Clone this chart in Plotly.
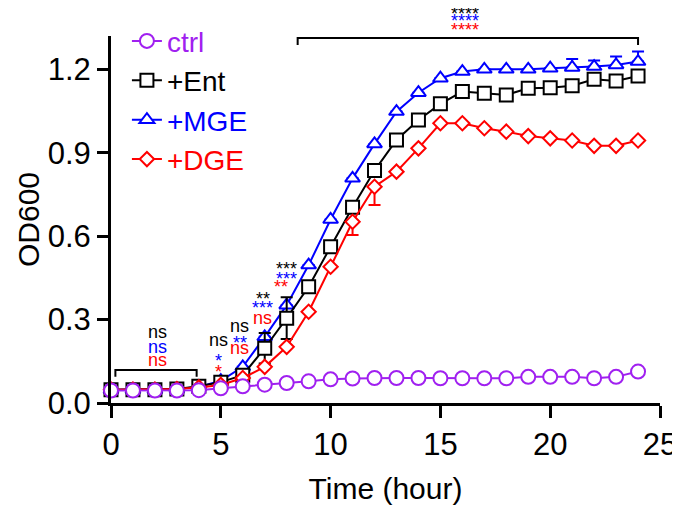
import plotly.graph_objects as go

# ---------------- data ----------------
hours = list(range(25))
ctrl = [0.045, 0.045, 0.045, 0.045, 0.046, 0.053, 0.060, 0.066, 0.072, 0.078, 0.085, 0.088, 0.090,
        0.090, 0.090, 0.089, 0.089, 0.089, 0.089, 0.094, 0.094, 0.094, 0.089, 0.094, 0.113]
ent = [0.048, 0.048, 0.048, 0.050, 0.060, 0.075, 0.100, 0.197, 0.305, 0.418, 0.562, 0.704, 0.836,
       0.946, 1.018, 1.076, 1.120, 1.114, 1.108, 1.132, 1.134, 1.141, 1.164, 1.158, 1.176]
mge = [0.048, 0.048, 0.048, 0.050, 0.058, 0.080, 0.130, 0.238, 0.352, 0.496, 0.660, 0.808, 0.932,
       1.048, 1.116, 1.168, 1.192, 1.200, 1.200, 1.200, 1.204, 1.207, 1.210, 1.216, 1.228]
dge = [0.048, 0.048, 0.048, 0.050, 0.056, 0.065, 0.090, 0.130, 0.202, 0.328, 0.490, 0.652, 0.778,
       0.832, 0.916, 1.006, 1.006, 0.988, 0.976, 0.960, 0.952, 0.944, 0.925, 0.925, 0.944]

ent_err = [0, 0, 0, 0, 0, 0.01, 0.015, 0.055, 0.075, 0, 0, 0, 0,
           0, 0, 0, 0, 0, 0, 0, 0, 0, 0, 0, 0]
mge_err_plus = [0, 0, 0, 0, 0, 0, 0, 0, 0, 0, 0, 0, 0,
                0, 0, 0, 0, 0, 0, 0, 0, 0.030, 0.022, 0.030, 0.036]
dge_err_minus = [0, 0, 0, 0, 0, 0, 0, 0, 0, 0, 0, 0.048, 0.066,
                 0, 0, 0, 0, 0, 0, 0, 0, 0, 0, 0, 0]
zeros = [0] * 25

x_ticks = [0, 5, 10, 15, 20, 25]
y_ticks = [0.0, 0.3, 0.6, 0.9, 1.2]

# significance labels inside the plot: (x, y, text, color)
sig_labels = [
    (2.14, 0.256, "ns", "black"), (2.14, 0.203, "ns", "blue"), (2.14, 0.155, "ns", "red"),
    (4.89, 0.227, "ns", "black"), (4.89, 0.169, "*", "blue"), (4.89, 0.131, "*", "red"),
    (5.87, 0.277, "ns", "black"), (5.87, 0.233, "**", "blue"), (5.87, 0.197, "ns", "red"),
    (6.91, 0.392, "**", "black"), (6.91, 0.359, "***", "blue"), (6.91, 0.307, "ns", "red"),
    (7.97, 0.499, "***", "black"), (7.97, 0.463, "***", "blue"), (7.75, 0.436, "**", "red"),
]
# labels above the plot area (y in paper units): (x, y_paper, text, color)
top_labels = [
    (16.1, 1.066, "****", "black"), (16.1, 1.045, "****", "blue"), (16.1, 1.022, "****", "red"),
]
# brackets: (x0, x1, y_top, y_end)
brackets = [(0.2, 3.9, 0.119, 0.094), (8.5, 24.0, 1.313, 1.288)]

PURPLE = "#A020F0"
FONT = "Arial, Liberation Sans, sans-serif"

fig = go.Figure()


def add(name, y, color, symbol, size, rank, err=None):
    tr = dict(
        x=hours, y=y, mode="lines+markers",
        name=f'<span style="color:{color}">{name}</span>',
        legendrank=rank,
        line=dict(color=color, width=2),
        marker=dict(symbol=symbol, size=size, color="white", line=dict(color=color, width=2)),
        cliponaxis=False,
    )
    if err is not None:
        tr["error_y"] = dict(err, color=color, thickness=2, width=6)
    fig.add_trace(go.Scatter(**tr))


add("+MGE", mge, "blue", "triangle-up", 13, 3,
    dict(type="data", symmetric=False, array=mge_err_plus, arrayminus=zeros))
add("+Ent", ent, "black", "square", 13, 2,
    dict(type="data", array=ent_err))
add("+DGE", dge, "red", "diamond", 11, 4,
    dict(type="data", symmetric=False, array=zeros, arrayminus=dge_err_minus))
add("ctrl", ctrl, PURPLE, "circle", 14, 1)

for x0, x1, yt, ye in brackets:
    fig.add_shape(type="path", xref="x", yref="y",
                  path=f"M {x0},{ye} L {x0},{yt} L {x1},{yt} L {x1},{ye}",
                  line=dict(color="black", width=2))

for x, y, t, c in sig_labels:
    star = "*" in t
    fig.add_annotation(x=x, y=y, xref="x", yref="y", text=t, showarrow=False,
                       xanchor="center", yanchor="middle",
                       font=dict(size=18, color=c, family=FONT),
                       yshift=-5 if star else 0)
for x, y, t, c in top_labels:
    fig.add_annotation(x=x, y=y, xref="x", yref="paper", text=t, showarrow=False,
                       xanchor="center", yanchor="bottom",
                       font=dict(size=18, color=c, family=FONT), yshift=-14)

# the page adds an 8px body margin, so the figure is sized to fit the 680x511 window
fig.update_layout(
    width=672, height=503,
    margin=dict(l=103, r=20, t=28, b=108, autoexpand=False),
    paper_bgcolor="white", plot_bgcolor="white",
    font=dict(family=FONT, size=30, color="black"),
    showlegend=True,
    legend=dict(x=0.029, y=1.054, xanchor="left", yanchor="top",
                bgcolor="rgba(0,0,0,0)", font=dict(size=28), tracegroupgap=0,
                itemsizing="trace"),
)
fig.update_xaxes(
    range=[0, 25], tickvals=x_ticks, ticktext=[str(v) for v in x_ticks],
    showgrid=False, zeroline=False, showline=True, linecolor="black", linewidth=3,
    ticks="outside", ticklen=12, tickwidth=3, tickcolor="black",
    tickfont=dict(size=31),
    title=dict(text="Time (hour)", standoff=17, font=dict(size=30)),
)
fig.update_yaxes(
    range=[0, 1.32], tickvals=y_ticks, ticktext=[f"{v:.1f}" for v in y_ticks],
    showgrid=False, zeroline=False, showline=True, linecolor="black", linewidth=3,
    ticks="outside", ticklen=11, tickwidth=3, tickcolor="black",
    tickfont=dict(size=31),
    title=dict(text="OD600", standoff=0, font=dict(size=30)),
)

fig.write_html("out.html")
